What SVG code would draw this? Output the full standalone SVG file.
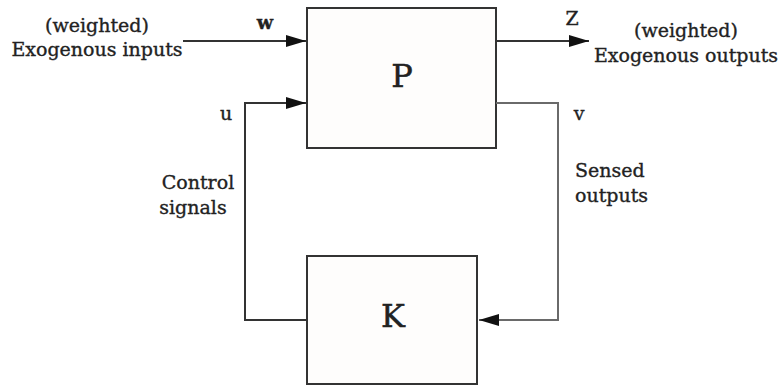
<svg xmlns="http://www.w3.org/2000/svg" width="780" height="387" viewBox="0 0 780 387">
<style>
.t{font-family:"DejaVu Serif","Liberation Serif",serif;font-size:19px;fill:#222;stroke:#222;stroke-width:0.35}
.big{font-family:"DejaVu Serif","Liberation Serif",serif;font-size:32px;fill:#222;stroke:#222;stroke-width:0.5}
.box{fill:#fefdfc;stroke:#333;stroke-width:2}
.ln{fill:none;stroke:#333;stroke-width:2}
.lg{fill:none;stroke:#6a6a6a;stroke-width:2}
</style>
<defs>
<marker id="ah" markerWidth="20" markerHeight="12" refX="20" refY="6" orient="auto" markerUnits="userSpaceOnUse">
<path d="M0,0 L20,6 L0,12 Z" fill="#111"/>
</marker>
</defs>
<rect width="780" height="387" fill="#fff"/>
<g id="P">
<rect class="box" x="307" y="8" width="189" height="140"/>
<text class="big" x="402" y="87" text-anchor="middle">P</text>
</g>
<g id="K">
<rect class="box" x="307" y="256" width="170" height="128"/>
<text class="big" x="393" y="327" text-anchor="middle">K</text>
</g>
<g id="connectors">
<path class="ln" d="M183,41 H306" marker-end="url(#ah)"/>
<path class="ln" d="M307,320 H245 V103 H306" marker-end="url(#ah)"/>
<path class="ln" d="M496,41 H589" marker-end="url(#ah)"/>
<path class="lg" d="M496,103 H558 V320 H479" marker-end="url(#ah)"/>
</g>
<g id="labels">
<text class="t" x="97" y="32" text-anchor="middle">(weighted)</text>
<text class="t" x="97" y="56" text-anchor="middle">Exogenous inputs</text>
<text class="t" x="265" y="29" text-anchor="middle" font-weight="bold">w</text>
<text class="t" x="226" y="120" text-anchor="middle">u</text>
<text class="t" x="198" y="189" text-anchor="middle">Control</text>
<text class="t" x="193" y="214" text-anchor="middle">signals</text>
<text class="t" x="572" y="25" text-anchor="middle">Z</text>
<text class="t" x="686" y="37" text-anchor="middle">(weighted)</text>
<text class="t" x="686" y="62" text-anchor="middle">Exogenous outputs</text>
<text class="t" x="579" y="120" text-anchor="middle">v</text>
<text class="t" x="575" y="177">Sensed</text>
<text class="t" x="575" y="202">outputs</text>
</g>
</svg>
